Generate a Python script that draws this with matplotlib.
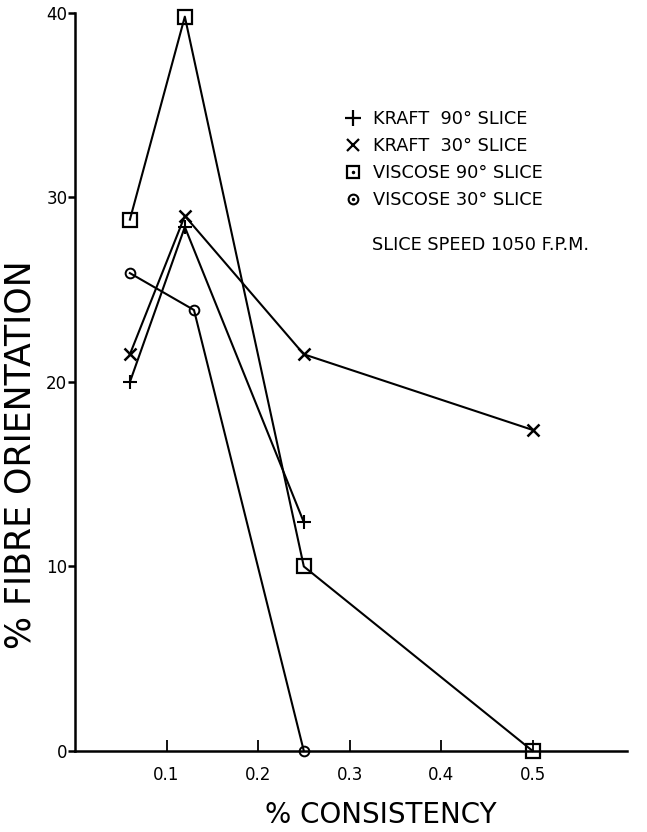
import matplotlib
matplotlib.use("Agg")
import matplotlib.pyplot as plt
from matplotlib.lines import Line2D

# Values
kraft90_x = [0.06, 0.12, 0.25]
kraft90_y = [20.0, 28.4, 12.4]

kraft30_x = [0.06, 0.12, 0.25, 0.50]
kraft30_y = [21.5, 29.0, 21.5, 17.4]

viscose90_x = [0.06, 0.12, 0.25, 0.50]
viscose90_y = [28.8, 39.8, 10.0, 0.0]

viscose30_x = [0.06, 0.13, 0.25]
viscose30_y = [25.9, 23.9, 0.0]

x_ticks = [0.1, 0.2, 0.3, 0.4, 0.5]
x_tick_labels = ["0.1", "0.2", "0.3", "0.4", "0.5"]
y_ticks = [0, 10, 20, 30, 40]
y_tick_labels = ["0", "10", "20", "30", "40"]

legend_labels = ["KRAFT  90° SLICE", "KRAFT  30° SLICE",
                 "VISCOSE 90° SLICE", "VISCOSE 30° SLICE"]
note = "SLICE SPEED 1050 F.P.M."

plt.rcParams['font.family'] = ['DejaVu Sans']

fig = plt.figure(figsize=(6.47, 8.32), dpi=100)
ax = fig.add_axes([0.1159, 0.0974, 0.8531, 0.887])

lw = 1.5
ax.plot(kraft90_x, kraft90_y, color="black", lw=lw, marker="+", ms=10, mew=1.5)
ax.plot(kraft30_x, kraft30_y, color="black", lw=lw, marker="x", ms=9, mew=1.8)
ax.plot(viscose90_x, viscose90_y, color="black", lw=lw, marker="s", ms=9.5,
        mfc="none", mew=1.6, clip_on=False)
ax.plot(viscose30_x, viscose30_y, color="black", lw=lw, marker="o", ms=7,
        mfc="none", mew=1.4, clip_on=False)

ax.set_xlim(0, 0.603)
ax.set_ylim(0, 40)

for side in ["top", "right"]:
    ax.spines[side].set_visible(False)
for side in ["left", "bottom"]:
    ax.spines[side].set_linewidth(1.8)

ax.set_xticks(x_ticks)
ax.set_xticklabels(x_tick_labels)
ax.set_yticks(y_ticks)
ax.set_yticklabels(y_tick_labels)
ax.tick_params(axis="x", direction="in", length=8, width=1.3, pad=11, labelsize=12)
ax.tick_params(axis="y", direction="out", length=5, width=1.8, pad=0.5, labelsize=12)

ax.set_xlabel("% CONSISTENCY", fontsize=20, va="center")
ax.xaxis.set_label_coords(0.554, -0.0867)
ax.set_ylabel("% FIBRE ORIENTATION", fontsize=25, va="center")
ax.yaxis.set_label_coords(-0.098, 0.401)

# legend markers (square and circle have a dot in the middle)
h_plus = Line2D([], [], color="black", ls="none", marker="+", ms=11, mew=1.6)
h_x = Line2D([], [], color="black", ls="none", marker="x", ms=8, mew=1.6)
h_sq = Line2D([], [], color="black", ls="none", marker="s", ms=9, mfc="none", mew=1.6)
h_circ = Line2D([], [], color="black", ls="none", marker="o", ms=7, mfc="none", mew=1.5)
h_dot = Line2D([], [], color="black", ls="none", marker=".", ms=3)

leg = ax.legend([h_plus, h_x, (h_sq, h_dot), (h_circ, h_dot)], legend_labels,
                loc="upper left", bbox_to_anchor=(0.488, 0.868),
                frameon=False, fontsize=12.8, handlelength=1.0,
                handletextpad=0.6, labelspacing=0.5, borderpad=0,
                borderaxespad=0)

ax.text(0.538, 0.686, note, transform=ax.transAxes, fontsize=12.8,
        ha="left", va="center")

fig.savefig("out.png", dpi=100)
